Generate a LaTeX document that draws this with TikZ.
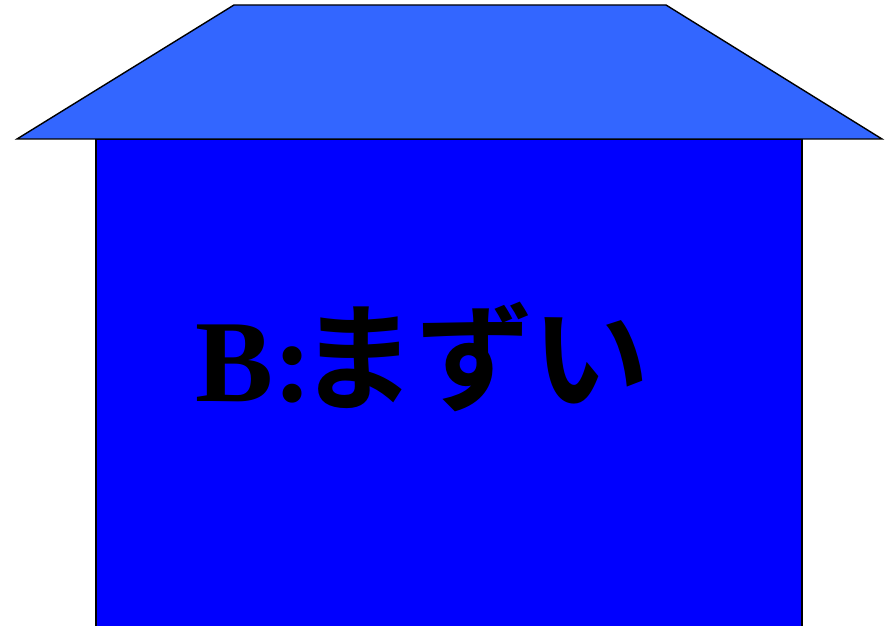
\documentclass[tikz,border=0pt]{standalone}
\usepackage{fontspec}
\setmainfont{Liberation Serif}
\newfontfamily\cjk{Noto Sans CJK JP}[BoldFont={* Bold}]
\definecolor{roofblue}{HTML}{3366FF}
\definecolor{wallblue}{HTML}{0000FF}
\tikzset{
  edge/.style={draw=black, line width=1.4pt, line join=miter},
  label/.style={inner sep=0pt, outer sep=0pt, font=\fontsize{117}{117}\selectfont\bfseries, text=black}
}
\begin{document}
\begin{tikzpicture}[x=1pt,y=1pt]
\useasboundingbox (0,0) rectangle (887,626);
\begin{scope}
\clip (0,0) rectangle (887,626);
\path[edge, fill=wallblue] (96,-10) -- (96,487) -- (802,487) -- (802,-10) -- cycle;
\path[edge, fill=roofblue] (17,487) -- (234,621) -- (666,621) -- (882,487) -- cycle;
\end{scope}
\node[label, anchor=base west] (txt) at (195,224) {B:\kern-13pt{\cjk\bfseries まずい}};
\end{tikzpicture}
\end{document}
